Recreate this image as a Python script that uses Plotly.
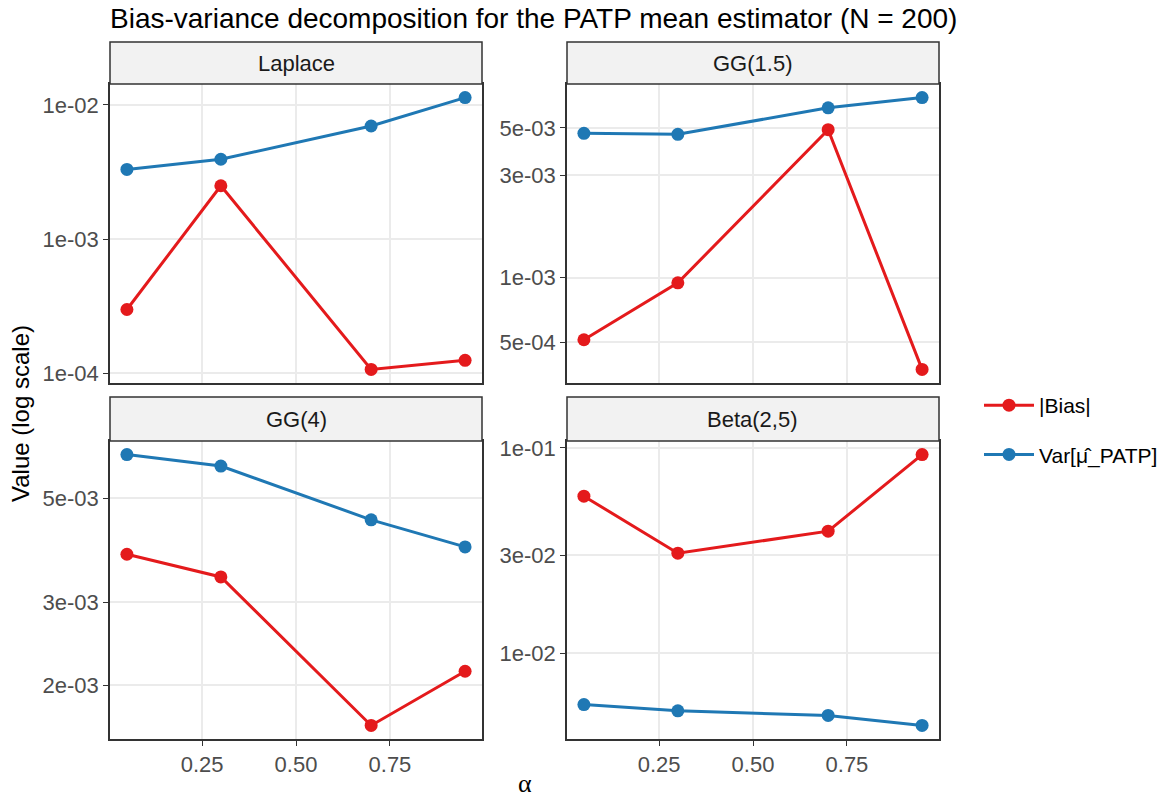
import numpy as np
import plotly.graph_objects as go

alpha = [0.05, 0.3, 0.7, 0.95]
panels = ["Laplace", "GG(1.5)", "GG(4)", "Beta(2,5)"]
bias = {
    "Laplace":   [2.99e-4, 2.50e-3, 1.07e-4, 1.25e-4],
    "GG(1.5)":   [5.13e-4, 9.46e-4, 4.91e-3, 3.73e-4],
    "GG(4)":     [3.80e-3, 3.40e-3, 1.64e-3, 2.14e-3],
    "Beta(2,5)": [5.82e-2, 3.07e-2, 3.93e-2, 9.29e-2],
}
var = {
    "Laplace":   [3.31e-3, 3.94e-3, 6.97e-3, 1.135e-2],
    "GG(1.5)":   [4.72e-3, 4.67e-3, 6.21e-3, 6.93e-3],
    "GG(4)":     [6.20e-3, 5.86e-3, 4.50e-3, 3.94e-3],
    "Beta(2,5)": [5.61e-3, 5.23e-3, 4.97e-3, 4.44e-3],
}
ytickvals = {
    "Laplace":   [1e-4, 1e-3, 1e-2],
    "GG(1.5)":   [5e-4, 1e-3, 3e-3, 5e-3],
    "GG(4)":     [2e-3, 3e-3, 5e-3],
    "Beta(2,5)": [1e-2, 3e-2, 1e-1],
}
yticktext = {
    "Laplace":   ["1e-04", "1e-03", "1e-02"],
    "GG(1.5)":   ["5e-04", "1e-03", "3e-03", "5e-03"],
    "GG(4)":     ["2e-03", "3e-03", "5e-03"],
    "Beta(2,5)": ["1e-02", "3e-02", "1e-01"],
}
xtickvals = [0.25, 0.5, 0.75]
xticktext = ["0.25", "0.50", "0.75"]
series_names = ["|Bias|", "Var[μ̂_PATP]"]
colors = ["#E41A1C", "#1F78B4"]
title = "Bias-variance decomposition for the PATP mean estimator (N = 200)"

W, H = 1167, 801
ML, MR, MT, MB = 110, 228, 42, 62
pw = W - ML - MR
ph = H - MT - MB

def px_x(x):
    return (x - ML) / pw

def px_y(y):
    return (H - MB - y) / ph

xdom = [[0, px_x(482)], [px_x(567), 1]]
ydom_top = [px_y(383), px_y(84)]
ydom_bot = [0, px_y(441)]
doms = [(xdom[0], ydom_top), (xdom[1], ydom_top), (xdom[0], ydom_bot), (xdom[1], ydom_bot)]
strips = [(84, 42), (441, 397)]

fig = go.Figure()
FONT = "Liberation Sans, Arial, Helvetica, sans-serif"

xmin, xmax = min(alpha), max(alpha)
xr = xmax - xmin
xrange = [xmin - 0.05 * xr, xmax + 0.05 * xr]

shapes = []
annotations = []
for i, p in enumerate(panels):
    k = "" if i == 0 else str(i + 1)
    for j, (nm, data) in enumerate([(series_names[0], bias), (series_names[1], var)]):
        fig.add_trace(go.Scatter(
            x=alpha, y=data[p], mode="lines+markers", name=nm,
            line=dict(color=colors[j], width=3),
            marker=dict(color=colors[j], size=13),
            xaxis="x" + k, yaxis="y" + k,
            showlegend=(i == 0), legendgroup=nm,
        ))
    allv = np.log10(np.array(bias[p] + var[p]))
    lo, hi = allv.min(), allv.max()
    r = hi - lo
    yrange = [lo - 0.05 * r, hi + 0.05 * r]
    xd, yd = doms[i]
    bottom = i >= 2
    fig.layout["xaxis" + k] = dict(
        domain=xd, range=xrange, anchor="y" + k,
        tickvals=xtickvals, ticktext=xticktext,
        showticklabels=bottom, ticks="outside" if bottom else "",
        ticklen=5, tickcolor="#333333", tickwidth=1.2,
        tickfont=dict(family=FONT, size=22, color="#4D4D4D"),
        showgrid=True, gridcolor="#EBEBEB", gridwidth=1.8,
        showline=True, linecolor="#333333", linewidth=1.5, mirror=True,
        zeroline=False,
    )
    fig.layout["yaxis" + k] = dict(
        domain=yd, type="log", range=yrange, anchor="x" + k,
        tickvals=ytickvals[p], ticktext=yticktext[p],
        ticks="outside", ticklen=5, tickcolor="#333333", tickwidth=1.2,
        tickfont=dict(family=FONT, size=22, color="#4D4D4D"),
        showgrid=True, gridcolor="#EBEBEB", gridwidth=1.8,
        showline=True, linecolor="#333333", linewidth=1.5, mirror=True,
        zeroline=False,
    )
    sb, st = strips[0] if i < 2 else strips[1]
    shapes.append(dict(type="rect", xref="paper", yref="paper",
                       x0=xd[0], x1=xd[1], y0=px_y(sb), y1=px_y(st),
                       fillcolor="#F2F2F2", line=dict(color="#333333", width=1.5)))
    annotations.append(dict(text=p, xref="paper", yref="paper",
                            x=(xd[0] + xd[1]) / 2, y=(px_y(sb) + px_y(st)) / 2,
                            showarrow=False, xanchor="center", yanchor="middle",
                            font=dict(family=FONT, size=22, color="#1A1A1A")))

annotations.append(dict(text="Value (log scale)", xref="paper", yref="paper",
                        x=px_x(20), y=px_y(414), textangle=-90, showarrow=False,
                        xanchor="center", yanchor="middle",
                        font=dict(family=FONT, size=24, color="black")))
annotations.append(dict(text="α", xref="paper", yref="paper",
                        x=px_x(525), y=px_y(784), showarrow=False,
                        xanchor="center", yanchor="middle",
                        font=dict(family="Liberation Serif, serif", size=26, color="black")))

fig.update_layout(
    width=W, height=H,
    margin=dict(l=ML, r=MR, t=MT, b=MB),
    paper_bgcolor="white", plot_bgcolor="white",
    title=dict(text=title, x=ML / W, xanchor="left", xref="container",
               y=1 - 18 / H, yanchor="middle",
               font=dict(family=FONT, size=28, color="black")),
    shapes=shapes, annotations=annotations,
    legend=dict(xref="container", yref="container", x=979 / W, y=1 - 385 / H,
                xanchor="left", yanchor="top", tracegroupgap=19, itemwidth=50,
                font=dict(family=FONT, size=21, color="black"),
                bgcolor="rgba(0,0,0,0)"),
)
fig.write_html("out.html", post_script="document.body.style.margin='0';",
               config={"displayModeBar": False})
